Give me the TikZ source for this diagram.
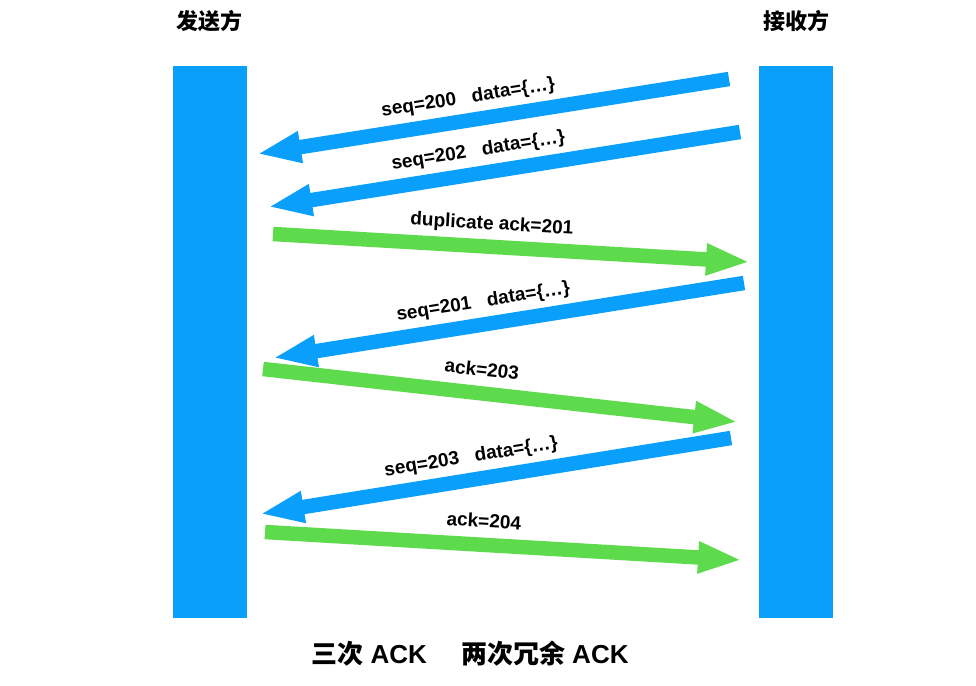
\documentclass[tikz,border=0pt]{standalone}
\usepackage{fontspec}
\setmainfont{Liberation Sans}
\newfontfamily\cjk{Noto Sans CJK SC}
\usetikzlibrary{arrows.meta}
\definecolor{barblue}{RGB}{10,159,250}
\definecolor{ackgreen}{RGB}{93,219,77}
\begin{document}
\begin{tikzpicture}[x=1pt,y=-1pt,
  bar/.style={fill=barblue, draw=none, minimum width=74pt, minimum height=552pt, inner sep=0pt},
  msg/.style={line width=14.5pt, -{Triangle[length=44pt,width=29pt]}},
  datamsg/.style={msg, draw=barblue},
  ackmsg/.style={msg, draw=ackgreen},
  lbl/.style={sloped, above=10pt, inner sep=0pt, text depth=0pt, font=\fontsize{19}{21}\selectfont\bfseries},
  titletext/.style={font=\cjk\bfseries\fontsize{22}{24}\selectfont, inner sep=0pt}]
\useasboundingbox (0,0) rectangle (976,685);
\node[bar] (sender) at (210,342) {};
\node[bar] (receiver) at (796,342) {};
\node[titletext] (st) at (209,21) {发送方};
\node[titletext] (rt) at (796,21) {接收方};
\node[inner sep=0pt, font=\fontsize{26}{28}\selectfont\bfseries] (bottom) at (470,654) {{\cjk 三次} ACK\hspace{34pt}{\cjk 两次冗余} ACK};
% endpoints
\coordinate (a1) at (729,79);  \coordinate (b1) at (257,154);
\coordinate (a2) at (740,132); \coordinate (b2) at (268,207);
\coordinate (a3) at (273,234); \coordinate (b3) at (750,262);
\coordinate (a4) at (744,283); \coordinate (b4) at (273,358);
\coordinate (a5) at (263,369); \coordinate (b5) at (738,422);
\coordinate (a6) at (731,438); \coordinate (b6) at (260,514);
\coordinate (a7) at (265,532); \coordinate (b7) at (742,560);
\draw[datamsg] (a1) -- node[lbl, pos=0.545] (l1) {seq=200\ \ \ data=\{…\}} (b1);
\draw[datamsg] (a2) -- node[lbl, pos=0.547] (l2) {seq=202\ \ \ data=\{…\}} (b2);
\draw[ackmsg] (a3) -- node[lbl, pos=0.456] (l3) {duplicate ack=201} (b3);
\draw[datamsg] (a4) -- node[lbl, pos=0.546] (l4) {seq=201\ \ \ data=\{…\}} (b4);
\draw[ackmsg] (a5) -- node[lbl, pos=0.455] (l5) {ack=203} (b5);
\draw[datamsg] (a6) -- node[lbl, pos=0.544] (l6) {seq=203\ \ \ data=\{…\}} (b6);
\draw[ackmsg] (a7) -- node[lbl, pos=0.456] (l7) {ack=204} (b7);
\end{tikzpicture}
\end{document}
